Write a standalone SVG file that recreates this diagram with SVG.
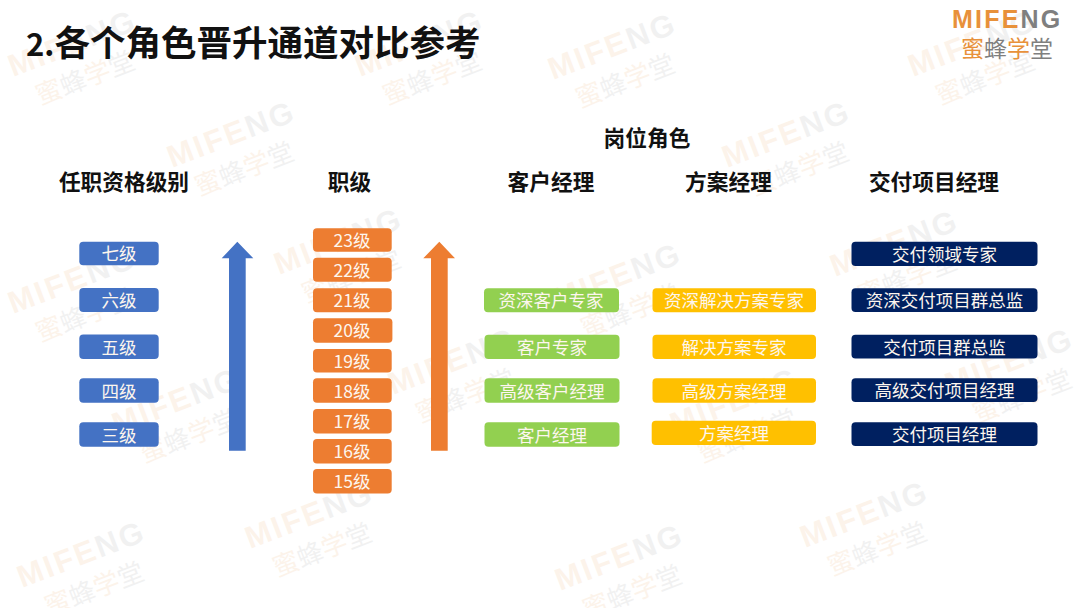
<svg xmlns="http://www.w3.org/2000/svg" width="1080" height="608" viewBox="0 0 1080 608">
<style>
text{font-family:"Noto Sans CJK SC","Noto Sans",sans-serif;text-anchor:middle}
.h{font-size:21.7px;font-weight:700;fill:#111}
.t{font-size:17.5px;fill:#fdf6ee;dominant-baseline:central}
.blue{fill:#4472C4}.or{fill:#ED7D31}.gr{fill:#92D050}.ye{fill:#FFC000}.na{fill:#002060}
.lo{fill:#E8913A}.lg{fill:#7f7f7f}
text.logo{font-family:"Liberation Sans",sans-serif;font-weight:700;text-anchor:start}
</style>
<defs>
<g id="wm" opacity="0.1">
<text class="logo" x="0" y="0" font-size="31" letter-spacing="2.4"><tspan class="lo">MIFE</tspan><tspan class="lg">NG</tspan></text>
<text x="67" y="36" font-size="26"><tspan class="lo">蜜</tspan><tspan class="lg">蜂</tspan><tspan class="lo">学</tspan><tspan class="lg">堂</tspan></text>
</g>
</defs>
<rect width="1080" height="608" fill="#fff"/>
<g id="watermarks">
<use href="#wm" transform="translate(13,77) rotate(-21)"/>
<use href="#wm" transform="translate(360,77) rotate(-21)"/>
<use href="#wm" transform="translate(553,80) rotate(-21)"/>
<use href="#wm" transform="translate(913,77) rotate(-21)"/>
<use href="#wm" transform="translate(172,168) rotate(-21)"/>
<use href="#wm" transform="translate(727,168) rotate(-21)"/>
<use href="#wm" transform="translate(279,275) rotate(-21)"/>
<use href="#wm" transform="translate(835,277) rotate(-21)"/>
<use href="#wm" transform="translate(13,314) rotate(-21)"/>
<use href="#wm" transform="translate(558,310) rotate(-21)"/>
<use href="#wm" transform="translate(393,395) rotate(-21)"/>
<use href="#wm" transform="translate(950,395) rotate(-21)"/>
<use href="#wm" transform="translate(117,435) rotate(-21)"/>
<use href="#wm" transform="translate(675,435) rotate(-21)"/>
<use href="#wm" transform="translate(250,549) rotate(-21)"/>
<use href="#wm" transform="translate(805,548) rotate(-21)"/>
<use href="#wm" transform="translate(22,588) rotate(-21)"/>
<use href="#wm" transform="translate(560,591) rotate(-21)"/>
</g>
<g id="title"><text x="26" y="56" font-size="35.5" font-weight="700" fill="#111" style="text-anchor:start"><tspan font-size="31">2.</tspan>各个角色晋升通道对比参考</text></g>
<g id="logo">
<text class="logo" x="952" y="28" font-size="25" letter-spacing="2.2"><tspan class="lo">MIFE</tspan><tspan class="lg">NG</tspan></text>
<text x="1007" y="57" font-size="23"><tspan class="lo">蜜</tspan><tspan class="lg">蜂</tspan><tspan class="lo">学</tspan><tspan class="lg">堂</tspan></text>
</g>
<g id="headers">
<text class="h" x="647" y="146">岗位角色</text>
<text class="h" x="124" y="190">任职资格级别</text>
<text class="h" x="349.5" y="190">职级</text>
<text class="h" x="551" y="190">客户经理</text>
<text class="h" x="728.5" y="190">方案经理</text>
<text class="h" x="934" y="190">交付项目经理</text>
</g>
<g id="connectors">
<path class="blue" d="M237.3 241.7L253.3 258.3H245.7V450.7H229V258.3H221.7Z"/>
<path class="or" d="M439.3 241.7L455 258.3H447.7V450.7H431V258.3H423.3Z"/>
</g>
<g id="q7"><rect class="blue" x="79.3" y="241.7" width="79.4" height="23.5" rx="4"/><text class="t" x="119" y="252.5">七级</text></g>
<g id="q6"><rect class="blue" x="79.3" y="288" width="79.4" height="24" rx="4"/><text class="t" x="119" y="299">六级</text></g>
<g id="q5"><rect class="blue" x="79.3" y="334.5" width="79.4" height="24.5" rx="4"/><text class="t" x="119" y="346">五级</text></g>
<g id="q4"><rect class="blue" x="79.3" y="378.3" width="79.4" height="24.5" rx="4"/><text class="t" x="119" y="390">四级</text></g>
<g id="q3"><rect class="blue" x="79.3" y="422.3" width="79.4" height="24.5" rx="4"/><text class="t" x="119" y="434">三级</text></g>
<g id="r23"><rect class="or" x="313" y="228.3" width="78.7" height="23.5" rx="4"/><text class="t" x="352" y="239">23级</text></g>
<g id="r22"><rect class="or" x="313" y="257.7" width="78.7" height="24" rx="4"/><text class="t" x="352" y="269">22级</text></g>
<g id="r21"><rect class="or" x="313" y="288.3" width="78.7" height="24" rx="4"/><text class="t" x="352" y="299.5">21级</text></g>
<g id="r20"><rect class="or" x="313" y="318.3" width="79.4" height="24.4" rx="4"/><text class="t" x="352" y="329.5">20级</text></g>
<g id="r19"><rect class="or" x="313" y="349" width="78.7" height="23.4" rx="4"/><text class="t" x="352" y="360">19级</text></g>
<g id="r18"><rect class="or" x="313" y="378.3" width="78.7" height="24.4" rx="4"/><text class="t" x="352" y="390">18级</text></g>
<g id="r17"><rect class="or" x="313" y="409" width="78.7" height="24.4" rx="4"/><text class="t" x="352" y="420.5">17级</text></g>
<g id="r16"><rect class="or" x="313" y="439" width="78.7" height="24.4" rx="4"/><text class="t" x="352" y="450.5">16级</text></g>
<g id="r15"><rect class="or" x="313" y="469" width="78.7" height="24.4" rx="4"/><text class="t" x="352" y="480.5">15级</text></g>
<g id="c1"><rect class="gr" x="484" y="288.3" width="135" height="24" rx="4"/><text class="t" x="551" y="299">资深客户专家</text></g>
<g id="c2"><rect class="gr" x="484.5" y="334.7" width="135" height="24.3" rx="4"/><text class="t" x="552" y="346">客户专家</text></g>
<g id="c3"><rect class="gr" x="484.5" y="378.3" width="135" height="24.4" rx="4"/><text class="t" x="552" y="390">高级客户经理</text></g>
<g id="c4"><rect class="gr" x="484.5" y="422.3" width="135" height="24.4" rx="4"/><text class="t" x="552" y="434">客户经理</text></g>
<g id="s1"><rect class="ye" x="652.5" y="288.3" width="163.5" height="24" rx="4"/><text class="t" x="734" y="299">资深解决方案专家</text></g>
<g id="s2"><rect class="ye" x="652.5" y="334.7" width="163.5" height="24.3" rx="4"/><text class="t" x="734" y="346">解决方案专家</text></g>
<g id="s3"><rect class="ye" x="652.5" y="378.3" width="163.5" height="24.4" rx="4"/><text class="t" x="734" y="390">高级方案经理</text></g>
<g id="s4"><rect class="ye" x="651.7" y="420.7" width="164.3" height="24.3" rx="4"/><text class="t" x="734" y="432.5">方案经理</text></g>
<g id="d1"><rect class="na" x="851.5" y="241.7" width="186" height="24.3" rx="4"/><text class="t" x="944.5" y="253">交付领域专家</text></g>
<g id="d2"><rect class="na" x="851.5" y="288.3" width="186" height="23.7" rx="4"/><text class="t" x="944.5" y="299">资深交付项目群总监</text></g>
<g id="d3"><rect class="na" x="851.5" y="334.7" width="186" height="23.7" rx="4"/><text class="t" x="944.5" y="346">交付项目群总监</text></g>
<g id="d4"><rect class="na" x="851.5" y="378.3" width="186" height="23.7" rx="4"/><text class="t" x="944.5" y="389.5">高级交付项目经理</text></g>
<g id="d5"><rect class="na" x="851.5" y="422.3" width="186" height="23.7" rx="4"/><text class="t" x="944.5" y="433.5">交付项目经理</text></g>
</svg>
